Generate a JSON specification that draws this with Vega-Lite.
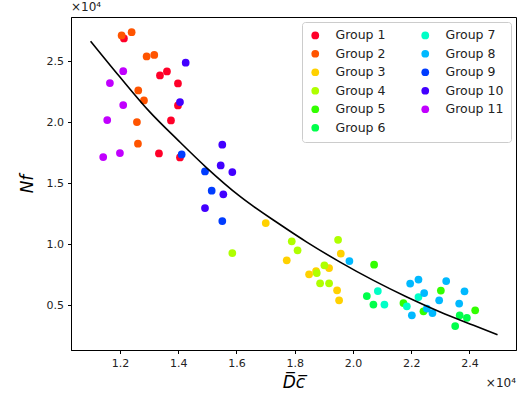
{
  "$schema": "https://vega.github.io/schema/vega-lite/v6.json",
  "width": 445,
  "height": 333,
  "autosize": {"type": "none"},
  "padding": {"left": 71, "top": 17, "right": 9, "bottom": 57},
  "background": "white",
  "config": {
    "font": "DejaVu Sans",
    "view": {"stroke": "black", "strokeWidth": 1},
    "axis": {"grid": false, "domainColor": "black", "tickColor": "black", "tickSize": 3.5, "labelColor": "#222", "labelFontSize": 11, "labelFont": "DejaVu Sans", "titleFont": "DejaVu Sans", "titleFontWeight": "normal", "titleColor": "black"}
  },
  "datasets": {
    "pts": [
      {"x": 12137, "y": 26861, "g": "Group 1"},
      {"x": 13375, "y": 23828, "g": "Group 1"},
      {"x": 13615, "y": 24156, "g": "Group 1"},
      {"x": 13993, "y": 23172, "g": "Group 1"},
      {"x": 13993, "y": 21369, "g": "Group 1"},
      {"x": 13753, "y": 20139, "g": "Group 1"},
      {"x": 13340, "y": 17434, "g": "Group 1"},
      {"x": 14062, "y": 17107, "g": "Group 1"},
      {"x": 12058, "y": 27107, "g": "Group 2"},
      {"x": 12402, "y": 27377, "g": "Group 2"},
      {"x": 12917, "y": 25385, "g": "Group 2"},
      {"x": 13179, "y": 25508, "g": "Group 2"},
      {"x": 12629, "y": 22598, "g": "Group 2"},
      {"x": 12825, "y": 21779, "g": "Group 2"},
      {"x": 12584, "y": 20000, "g": "Group 2"},
      {"x": 12619, "y": 18229, "g": "Group 2"},
      {"x": 17007, "y": 11721, "g": "Group 3"},
      {"x": 17728, "y": 8664, "g": "Group 3"},
      {"x": 18495, "y": 7516, "g": "Group 3"},
      {"x": 18735, "y": 7787, "g": "Group 3"},
      {"x": 19182, "y": 8033, "g": "Group 3"},
      {"x": 19584, "y": 9213, "g": "Group 3"},
      {"x": 19457, "y": 6205, "g": "Group 3"},
      {"x": 19526, "y": 5385, "g": "Group 3"},
      {"x": 15859, "y": 9262, "g": "Group 4"},
      {"x": 17900, "y": 10221, "g": "Group 4"},
      {"x": 18100, "y": 9483, "g": "Group 4"},
      {"x": 19491, "y": 10344, "g": "Group 4"},
      {"x": 19021, "y": 8254, "g": "Group 4"},
      {"x": 18759, "y": 7623, "g": "Group 4"},
      {"x": 18873, "y": 6778, "g": "Group 4"},
      {"x": 19182, "y": 6778, "g": "Group 4"},
      {"x": 20728, "y": 8311, "g": "Group 5"},
      {"x": 23020, "y": 6180, "g": "Group 5"},
      {"x": 24199, "y": 4565, "g": "Group 5"},
      {"x": 22423, "y": 4483, "g": "Group 5"},
      {"x": 21735, "y": 5164, "g": "Group 5"},
      {"x": 20478, "y": 5737, "g": "Group 6"},
      {"x": 20704, "y": 5033, "g": "Group 6"},
      {"x": 23512, "y": 3278, "g": "Group 6"},
      {"x": 23667, "y": 4155, "g": "Group 6"},
      {"x": 23914, "y": 3951, "g": "Group 6"},
      {"x": 20856, "y": 6147, "g": "Group 7"},
      {"x": 21082, "y": 5033, "g": "Group 7"},
      {"x": 21852, "y": 4893, "g": "Group 7"},
      {"x": 22251, "y": 5656, "g": "Group 7"},
      {"x": 19880, "y": 8607, "g": "Group 8"},
      {"x": 21966, "y": 6754, "g": "Group 8"},
      {"x": 22251, "y": 7082, "g": "Group 8"},
      {"x": 22447, "y": 5984, "g": "Group 8"},
      {"x": 22024, "y": 4155, "g": "Group 8"},
      {"x": 22539, "y": 4704, "g": "Group 8"},
      {"x": 22732, "y": 4344, "g": "Group 8"},
      {"x": 22962, "y": 5385, "g": "Group 8"},
      {"x": 23203, "y": 6967, "g": "Group 8"},
      {"x": 23649, "y": 5114, "g": "Group 8"},
      {"x": 23832, "y": 6123, "g": "Group 8"},
      {"x": 14120, "y": 17352, "g": "Group 9"},
      {"x": 14921, "y": 15959, "g": "Group 9"},
      {"x": 15151, "y": 14377, "g": "Group 9"},
      {"x": 15515, "y": 11885, "g": "Group 9"},
      {"x": 14258, "y": 24869, "g": "Group 10"},
      {"x": 14062, "y": 21639, "g": "Group 10"},
      {"x": 15515, "y": 18147, "g": "Group 10"},
      {"x": 15460, "y": 16451, "g": "Group 10"},
      {"x": 15859, "y": 15901, "g": "Group 10"},
      {"x": 15550, "y": 14074, "g": "Group 10"},
      {"x": 14921, "y": 12951, "g": "Group 10"},
      {"x": 12113, "y": 24180, "g": "Group 11"},
      {"x": 11656, "y": 23197, "g": "Group 11"},
      {"x": 12113, "y": 21393, "g": "Group 11"},
      {"x": 11564, "y": 20164, "g": "Group 11"},
      {"x": 11426, "y": 17131, "g": "Group 11"},
      {"x": 12000, "y": 17459, "g": "Group 11"}
    ],
    "fit": [
      {"x": 10993, "y": 26640},
      {"x": 12000, "y": 23700},
      {"x": 13000, "y": 20900},
      {"x": 14000, "y": 18500},
      {"x": 14979, "y": 16250},
      {"x": 16124, "y": 13900},
      {"x": 17498, "y": 11600},
      {"x": 18416, "y": 10160},
      {"x": 19560, "y": 8520},
      {"x": 20704, "y": 7020},
      {"x": 21852, "y": 5660},
      {"x": 22997, "y": 4430},
      {"x": 24141, "y": 3340},
      {"x": 24966, "y": 2570}
    ]
  },
  "layer": [
    {
      "data": {"name": "pts"},
      "mark": {"type": "point", "filled": true, "opacity": 1, "size": 60, "strokeWidth": 0},
      "encoding": {
        "x": {"field": "x", "type": "quantitative", "scale": {"domain": [10320, 25600], "nice": false, "zero": false},
          "axis": {"values": [12000, 14000, 16000, 18000, 20000, 22000, 24000], "labelExpr": "format(datum.value/10000, '.1f')", "title": "D̅c̅", "titleFontSize": 17, "titleFontStyle": "italic", "titlePadding": 6, "labelPadding": 4}},
        "y": {"field": "y", "type": "quantitative", "scale": {"domain": [1310, 28620], "nice": false, "zero": false},
          "axis": {"values": [5000, 10000, 15000, 20000, 25000], "labelExpr": "format(datum.value/10000, '.1f')", "title": "Nf", "titleFontSize": 17, "titleFontStyle": "italic", "titlePadding": 10, "labelPadding": 4}},
        "color": {"field": "g", "type": "nominal",
          "scale": {"domain": ["Group 1", "Group 2", "Group 3", "Group 4", "Group 5", "Group 6", "Group 7", "Group 8", "Group 9", "Group 10", "Group 11"],
                    "range": ["#ff0029", "#ff5400", "#ffd100", "#afff00", "#32ff00", "#00ff4b", "#00ffc7", "#00b9ff", "#003cff", "#4200ff", "#c100ff"]},
          "legend": {"title": null, "orient": "top-right", "offset": 5, "columns": 2, "symbolType": "circle", "symbolSize": 60, "labelFontSize": 12.5, "labelFont": "DejaVu Sans", "labelColor": "#222", "rowPadding": 5.5, "columnPadding": 33, "labelOffset": 14, "padding": 7, "strokeColor": "#cccccc", "cornerRadius": 3, "fillColor": "white"}}
      }
    },
    {
      "data": {"name": "fit"},
      "mark": {"type": "line", "color": "black", "strokeWidth": 1.6, "interpolate": "monotone"},
      "encoding": {
        "x": {"field": "x", "type": "quantitative"},
        "y": {"field": "y", "type": "quantitative"}
      }
    },
    {
      "data": {"values": [{}]},
      "mark": {"type": "text", "text": "×10⁴", "align": "left", "baseline": "bottom", "dy": -3, "fontSize": 12, "color": "#222"},
      "encoding": {"x": {"datum": 10320, "type": "quantitative"}, "y": {"datum": 28620, "type": "quantitative"}}
    },
    {
      "data": {"values": [{}]},
      "mark": {"type": "text", "text": "×10⁴", "align": "right", "baseline": "middle", "dy": 33, "fontSize": 12, "color": "#222"},
      "encoding": {"x": {"datum": 25600, "type": "quantitative"}, "y": {"datum": 1310, "type": "quantitative"}}
    }
  ]
}
